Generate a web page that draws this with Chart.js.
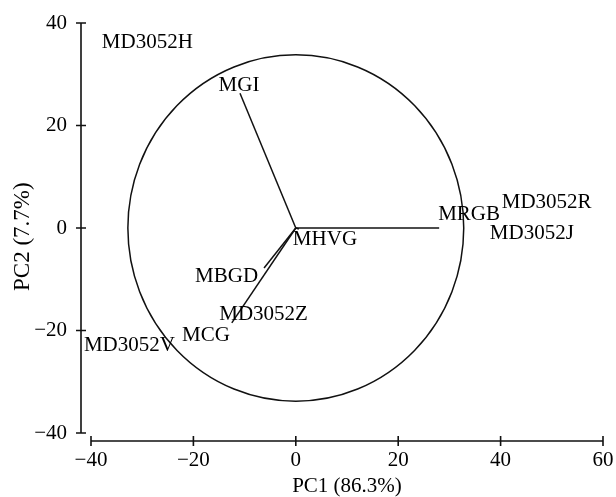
<!DOCTYPE html>
<html><head><meta charset="utf-8">
<script src="https://cdn.jsdelivr.net/npm/chart.js@4.4.0/dist/chart.umd.min.js"></script>
<style>html,body{margin:0;padding:0;background:#fff;} #wrap{width:616px;height:497px;position:relative;}</style>
</head><body><div id="wrap"><canvas id="c"></canvas></div>
<script>
// ---- data ----
const xTicks = [-40, -20, 0, 20, 40, 60];
const xTickLabels = ['−40', '−20', '0', '20', '40', '60'];
const yTicks = [-40, -20, 0, 20, 40];
const yTickLabels = ['−40', '−20', '0', '20', '40'];
const xTitle = 'PC1 (86.3%)';
const yTitle = 'PC2 (7.7%)';
const variableNames = ['MGI', 'MRGB', 'MHVG', 'MBGD', 'MCG'];
const variableX = [-10.9, 28.0, 0.6, -6.2, -12.5];
const variableY = [26.3, 0.0, -0.2, -7.8, -18.5];
const sampleNames = ['MD3052H', 'MD3052R', 'MD3052J', 'MD3052Z', 'MD3052V'];
const sampleX = [-29.0, 49.0, 46.1, -6.3, -32.5];
const sampleY = [36.5, 5.3, -0.8, -16.5, -22.7];
const circleRadiusX = 32.8;
const circleRadiusY = 33.8;

// ---- style ----
const FONT = "'Liberation Serif', 'Times New Roman', serif";
const INK = '#000';
const varLabelStyle = [
  {align: 'center', dx: -1, dy: -2},
  {align: 'left', dx: -1, dy: -8},
  {align: 'left', dx: -6, dy: 16},
  {align: 'right', dx: -6, dy: 14},
  {align: 'right', dx: -2, dy: 18}
];

Chart.defaults.font.family = FONT;
Chart.defaults.font.size = 21;
Chart.defaults.color = INK;

const datasets = variableNames.map((n, i) => ({
  label: n,
  data: [{x: 0, y: 0}, {x: variableX[i], y: variableY[i]}],
  showLine: true,
  borderColor: '#111',
  borderWidth: 1.5,
  pointRadius: 0,
  fill: false
}));

const overlay = {
  id: 'overlay',
  beforeDatasetsDraw(chart) {
    const {ctx, scales: {x, y}} = chart;
    const cx = x.getPixelForValue(0), cy = y.getPixelForValue(0);
    const rx = Math.abs(x.getPixelForValue(circleRadiusX) - cx);
    const ry = Math.abs(y.getPixelForValue(circleRadiusY) - cy);
    ctx.save();
    ctx.beginPath();
    ctx.ellipse(cx, cy, rx, ry, 0, 0, Math.PI * 2);
    ctx.lineWidth = 1.5;
    ctx.strokeStyle = '#111';
    ctx.stroke();
    ctx.restore();
  },
  afterDraw(chart) {
    const {ctx, chartArea, scales: {x, y}} = chart;
    ctx.save();
    ctx.strokeStyle = '#111';
    ctx.lineWidth = 1.6;
    // y axis (detached)
    const ax = chartArea.left - 10;
    ctx.beginPath();
    ctx.moveTo(ax, y.getPixelForValue(yTicks[yTicks.length - 1]));
    ctx.lineTo(ax, y.getPixelForValue(yTicks[0]));
    yTicks.forEach(v => {
      const py = y.getPixelForValue(v);
      ctx.moveTo(ax - 5, py); ctx.lineTo(ax + 5, py);
    });
    ctx.stroke();
    // x axis (detached)
    const ay = chartArea.bottom + 8;
    ctx.beginPath();
    ctx.moveTo(x.getPixelForValue(xTicks[0]), ay);
    ctx.lineTo(x.getPixelForValue(xTicks[xTicks.length - 1]), ay);
    xTicks.forEach(v => {
      const px = x.getPixelForValue(v);
      ctx.moveTo(px, ay - 5); ctx.lineTo(px, ay + 5);
    });
    ctx.stroke();
    // labels
    ctx.fillStyle = INK;
    ctx.font = '21px ' + FONT;
    ctx.textBaseline = 'alphabetic';
    variableNames.forEach((n, i) => {
      const s = varLabelStyle[i];
      ctx.textAlign = s.align;
      ctx.fillText(n, x.getPixelForValue(variableX[i]) + s.dx, y.getPixelForValue(variableY[i]) + s.dy);
    });
    ctx.textAlign = 'center';
    sampleNames.forEach((n, i) => {
      ctx.fillText(n, x.getPixelForValue(sampleX[i]), y.getPixelForValue(sampleY[i]) + 7);
    });
    ctx.restore();
  }
};

new Chart(document.getElementById('c'), {
  type: 'scatter',
  data: {datasets},
  options: {
    responsive: true,
    maintainAspectRatio: false,
    animation: false,
    layout: {padding: {top: 23, right: 13, left: 0, bottom: 0}},
    plugins: {legend: {display: false}, tooltip: {enabled: false}},
    scales: {
      x: {
        type: 'linear', min: -40, max: 60,
        afterBuildTicks: s => { s.ticks = xTicks.map(v => ({value: v})); },
        afterFit: s => { s.height = 64; },
        grid: {display: false, drawTicks: true, tickLength: 15},
        border: {display: false},
        ticks: {padding: 0, color: INK, font: {size: 21}, maxRotation: 0,
          callback: v => { const i = xTicks.indexOf(v); return i >= 0 ? xTickLabels[i] : ''; }},
        title: {display: true, text: xTitle, color: INK, font: {size: 21, lineHeight: 1}, padding: {top: 0, bottom: 0}}
      },
      y: {
        type: 'linear', min: -40, max: 40,
        afterBuildTicks: s => { s.ticks = yTicks.map(v => ({value: v})); },
        afterFit: s => { s.width = 91; },
        grid: {display: false, drawTicks: true, tickLength: 24},
        border: {display: false},
        ticks: {padding: 0, color: INK, font: {size: 21},
          callback: v => { const i = yTicks.indexOf(v); return i >= 0 ? yTickLabels[i] : ''; }},
        title: {display: true, text: yTitle + '   ', color: INK, font: {size: 23, lineHeight: 1}, padding: {top: 11, bottom: 0}}
      }
    }
  },
  plugins: [overlay]
});
</script>
</body></html>
